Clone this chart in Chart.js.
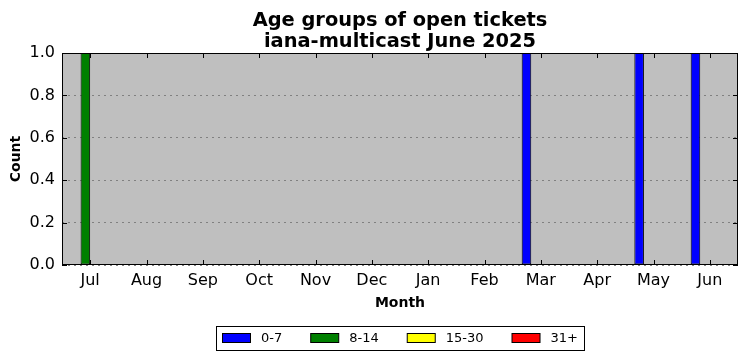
<!DOCTYPE html>
<html>
<head>
<meta charset="utf-8">
<script src="https://cdn.jsdelivr.net/npm/chart.js@4.4.0/dist/chart.umd.min.js"></script>
<style>
html,body{margin:0;padding:0;background:#fff;}
canvas{display:block;}
</style>
</head>
<body>
<canvas id="c" width="747" height="361"></canvas>
<script>
const months = ['Jul','Aug','Sep','Oct','Nov','Dec','Jan','Feb','Mar','Apr','May','Jun'];
const age0to7   = [0,0,0,0,0,0,0,0,1,0,1,1];
const age8to14  = [1,0,0,0,0,0,0,0,0,0,0,0];
const age15to30 = [0,0,0,0,0,0,0,0,0,0,0,0];
const age31plus = [0,0,0,0,0,0,0,0,0,0,0,0];
const seriesNames = ['0-7','8-14','15-30','31+'];
const seriesColors = ['#0000ff','#008000','#ffff00','#ff0000'];
const yTicks = [0,0.2,0.4,0.6,0.8,1.0];
const titleLines = ['Age groups of open tickets','iana-multicast June 2025'];

const FONT = '"DejaVu Sans", sans-serif';

const customPlugin = {
  id: 'custom',
  beforeDraw(chart) {
    const a = chart.chartArea, ctx = chart.ctx;
    ctx.save();
    ctx.fillStyle = '#bfbfbf';
    ctx.fillRect(a.left, a.top, a.right - a.left, a.bottom - a.top);
    ctx.restore();
  },
  afterDraw(chart) {
    const a = chart.chartArea, ctx = chart.ctx;
    const xs = chart.scales.x, ys = chart.scales.y;
    ctx.save();
    // frame
    ctx.strokeStyle = '#000';
    ctx.lineWidth = 1;
    ctx.strokeRect(Math.round(a.left)+0.5, Math.round(a.top)+0.5, Math.round(a.right-a.left)-1, Math.round(a.bottom-a.top)-1);
    // inward ticks
    const tl = 5;
    ctx.beginPath();
    for (let i = 0; i < months.length; i++) {
      const x = Math.round(xs.getPixelForValue(i)) + 0.5;
      ctx.moveTo(x, a.bottom); ctx.lineTo(x, a.bottom - tl);
      ctx.moveTo(x, a.top); ctx.lineTo(x, a.top + tl);
    }
    for (const v of yTicks) {
      const y = Math.round(ys.getPixelForValue(v)) + 0.5;
      ctx.moveTo(a.left, y); ctx.lineTo(a.left + tl, y);
      ctx.moveTo(a.right, y); ctx.lineTo(a.right - tl, y);
    }
    ctx.stroke();
    const cx = (a.left + a.right) / 2;
    // title
    ctx.fillStyle = '#000';
    ctx.textAlign = 'center';
    ctx.textBaseline = 'alphabetic';
    ctx.font = 'bold 19.4px ' + FONT;
    ctx.fillText(titleLines[0], cx, 25.5);
    ctx.fillText(titleLines[1], cx, 46.5);
    // axis titles
    ctx.font = 'bold 14px ' + FONT;
    ctx.textBaseline = 'middle';
    ctx.fillText('Month', cx, 303);
    ctx.save();
    ctx.translate(16, (a.top + a.bottom) / 2);
    ctx.rotate(-Math.PI / 2);
    ctx.fillText('Count', 0, 0);
    ctx.restore();
    // legend
    ctx.font = '13px ' + FONT;
    const sw = 28, sh = 10, gapT = 11, gapE = 28, pad = 6;
    let widths = seriesNames.map(n => ctx.measureText(n).width);
    let total = pad;
    widths.forEach((w, i) => { total += sw + gapT + w + (i < widths.length - 1 ? gapE : 0); });
    total += pad;
    const bx = Math.round(cx - total / 2), by = 326, bh = 24;
    ctx.strokeStyle = '#000';
    ctx.strokeRect(bx + 0.5, by + 0.5, Math.round(total), bh);
    let x = bx + pad;
    ctx.textAlign = 'left';
    ctx.textBaseline = 'middle';
    seriesNames.forEach((n, i) => {
      ctx.fillStyle = seriesColors[i];
      ctx.fillRect(x + 0.5, 333.5, sw, sh - 1);
      ctx.strokeRect(x + 0.5, 333.5, sw, sh - 1);
      ctx.fillStyle = '#000';
      ctx.fillText(n, x + sw + gapT, 338.5);
      x += sw + gapT + widths[i] + gapE;
    });
    ctx.restore();
  }
};

const allSeries = [age0to7, age8to14, age15to30, age31plus];
new Chart(document.getElementById('c'), {
  type: 'bar',
  data: {
    labels: months,
    datasets: allSeries.map((d, i) => ({
      label: seriesNames[i],
      data: d,
      backgroundColor: seriesColors[i],
      borderColor: '#000',
      borderWidth: 1,
      borderSkipped: false,
      categoryPercentage: 0.68,
      barPercentage: 1.0
    }))
  },
  options: {
    responsive: false,
    animation: false,
    devicePixelRatio: 1,
    layout: { padding: { top: 53, right: 9, left: 0, bottom: 0 } },
    plugins: { legend: { display: false }, title: { display: false }, tooltip: { enabled: false } },
    scales: {
      x: {
        type: 'category',
        grid: { display: false, drawTicks: false },
        border: { display: false },
        ticks: { color: '#000', font: { family: FONT, size: 16 }, padding: 6, maxRotation: 0, autoSkip: false },
        afterFit(s) { s.height = 96; }
      },
      y: {
        min: 0, max: 1,
        grid: { color: '#808080', lineWidth: 1, drawTicks: false },
        border: { display: false, dash: [2,4] },
        ticks: {
          stepSize: 0.2, color: '#000', font: { family: FONT, size: 16 }, padding: 7,
          callback: v => Number(v).toFixed(1)
        },
        afterFit(s) { s.width = 62; }
      }
    }
  },
  plugins: [customPlugin]
});
</script>
</body>
</html>
